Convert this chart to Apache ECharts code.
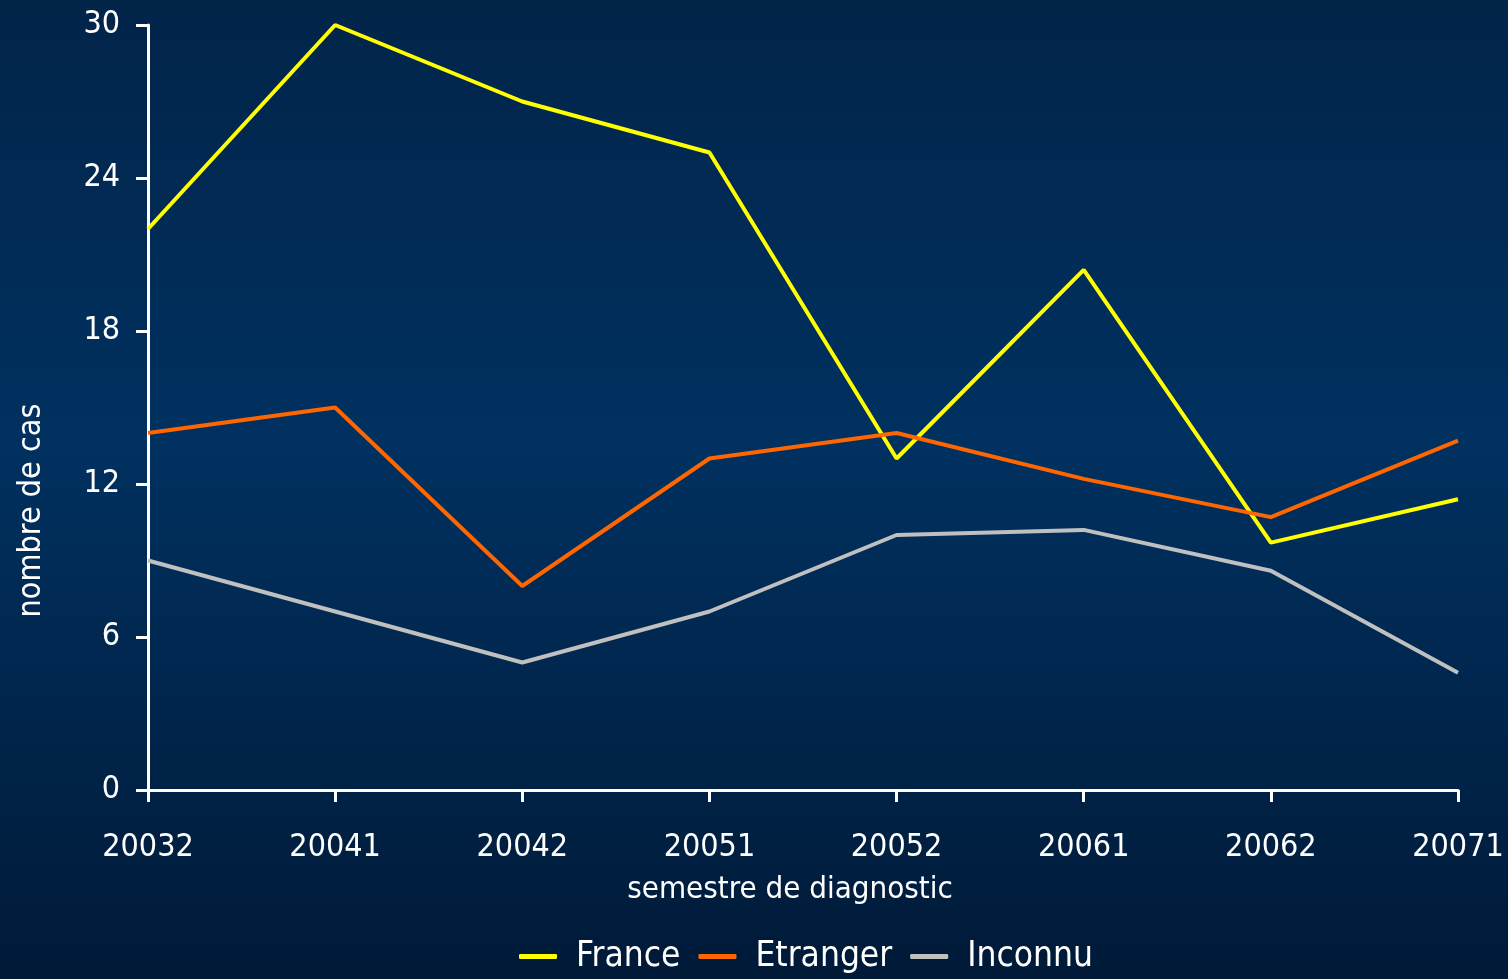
<!DOCTYPE html>
<html>
<head>
<meta charset="utf-8">
<style>
  html, body { margin: 0; padding: 0; }
  #chart { width: 1508px; height: 979px; }
</style>
<script src="https://cdn.jsdelivr.net/npm/echarts@6/dist/echarts.min.js"></script>
</head>
<body>
<div id="chart"></div>
<script>
// semestres (année + semestre)
var categories = ['20032', '20041', '20042', '20051', '20052', '20061', '20062', '20071']
var france = [22, 30, 27, 25, 13, 20.4, 9.7, 11.4]
var etranger = [14, 15, 8, 13, 14, 12.2, 10.7, 13.7]
var inconnu = [9, 7, 5, 7, 10, 10.2, 8.6, 4.6]
var yTicks = [0, 6, 12, 18, 24, 30]

var FONT = '"DejaVu Sans Condensed", "Liberation Sans", sans-serif'
var chart = echarts.init(document.getElementById('chart'))

function line (name, data, color) {
  return {
    name: name,
    type: 'line',
    data: data,
    symbol: 'none',
    lineStyle: { color: color, width: 4 },
    itemStyle: { color: color }
  }
}

chart.setOption({
  backgroundColor: {
    type: 'linear', x: 0, y: 0, x2: 0, y2: 1,
    colorStops: [
      { offset: 0, color: '#022449' },
      { offset: 0.45, color: '#003160' },
      { offset: 1, color: '#001a38' }
    ]
  },
  animation: false,
  textStyle: { fontFamily: FONT },
  grid: { left: 148, right: 50, top: 25, bottom: 189, outerBoundsMode: 'none', containLabel: false },
  legend: {
    bottom: 0,
    left: 514,
    icon: 'roundRect',
    itemWidth: 38,
    itemHeight: 5,
    itemGap: 18,
    textStyle: { color: '#ffffff', fontSize: 35, fontFamily: FONT, padding: [0, 0, 0, 14] },
    data: ['France', 'Etranger', 'Inconnu']
  },
  xAxis: {
    type: 'category',
    data: categories,
    boundaryGap: false,
    name: 'semestre de diagnostic',
    nameLocation: 'middle',
    nameGap: 84,
    nameTextStyle: { color: '#ffffff', fontSize: 31, fontFamily: FONT, padding: [0, 26, 0, 0] },
    axisLine: { lineStyle: { color: '#ffffff', width: 3 } },
    axisTick: { alignWithLabel: true, length: 12, lineStyle: { color: '#ffffff', width: 3 } },
    axisLabel: { color: '#ffffff', fontSize: 32, margin: 42, fontFamily: FONT, showMinLabel: true, showMaxLabel: true },
    splitLine: { show: false }
  },
  yAxis: {
    type: 'value',
    min: yTicks[0],
    max: yTicks[yTicks.length - 1],
    interval: 6,
    name: 'nombre de cas',
    nameLocation: 'middle',
    nameGap: 100,
    nameTextStyle: { color: '#ffffff', fontSize: 32, fontFamily: FONT, padding: [0, 206, 0, 0] },
    axisLine: { show: true, lineStyle: { color: '#ffffff', width: 3 } },
    axisTick: { show: true, length: 12, lineStyle: { color: '#ffffff', width: 3 } },
    axisLabel: { color: '#ffffff', fontSize: 32, margin: 28, fontFamily: FONT },
    splitLine: { show: false }
  },
  series: [
    line('France', france, '#ffff00'),
    line('Etranger', etranger, '#ff6600'),
    line('Inconnu', inconnu, '#c0c0c0')
  ]
})
</script>
</body>
</html>
